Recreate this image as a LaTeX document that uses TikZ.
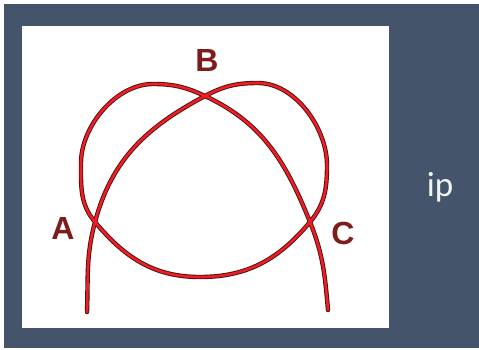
\documentclass[tikz,border=0pt]{standalone}
\usepackage{fontspec}
\setmainfont{Liberation Sans}
\newfontfamily\ipfont{Carlito}
\definecolor{slate}{HTML}{44546A}
\definecolor{knotred}{HTML}{EE1C24}
\definecolor{labelred}{HTML}{7E1C1C}
\definecolor{knotedge}{HTML}{4A1010}
\begin{document}
\begin{tikzpicture}[x=1pt,y=-1pt,
  knot/.style={line width=0.9pt, draw=knotedge, double=knotred, double distance=2.6pt, line cap=round, line join=round},
  lbl/.style={text=labelred, font=\bfseries\fontsize{32}{32}\selectfont, inner sep=0pt}]
\useasboundingbox (0,0) rectangle (479,350);
\fill[white] (0,0) rectangle (479,350);
\fill[slate] (4,4) rectangle (479,348);
\fill[white] (22,26) rectangle (389,328);
\coordinate (S) at (87,312);
\coordinate (pA) at (95,222);
\coordinate (pB) at (205,96);
\coordinate (pC) at (310,222);
\coordinate (T1) at (258,83);
\coordinate (R) at (327,165);
\coordinate (Bot) at (200,277);
\coordinate (L) at (81,163);
\coordinate (T2) at (153,84);
\coordinate (E) at (328,310);
\draw[knot] (S) to[out=88,in=255] (pA)
  to[out=75,in=208] (pB)
  to[out=28,in=180] (T1)
  to[out=0,in=90,looseness=0.88] (R)
  to[out=-90,in=50] (pC)
  to[out=-130,in=0] (Bot)
  to[out=180,in=-50] (pA)
  to[out=130,in=-90] (L)
  to[out=90,in=180,looseness=0.88] (T2)
  to[out=0,in=155] (pB)
  to[out=-25,in=112] (pC)
  to[out=-68,in=95] (E);
\node[lbl] (A) at (63,228) {A};
\node[lbl] (B) at (207,60) {B};
\node[lbl] (C) at (343,233) {C};
\node[text=white!93!slate, font=\ipfont\fontsize{35}{35}\selectfont, inner sep=0pt, anchor=base] (ip) at (440,196) {ip};
\end{tikzpicture}
\end{document}
